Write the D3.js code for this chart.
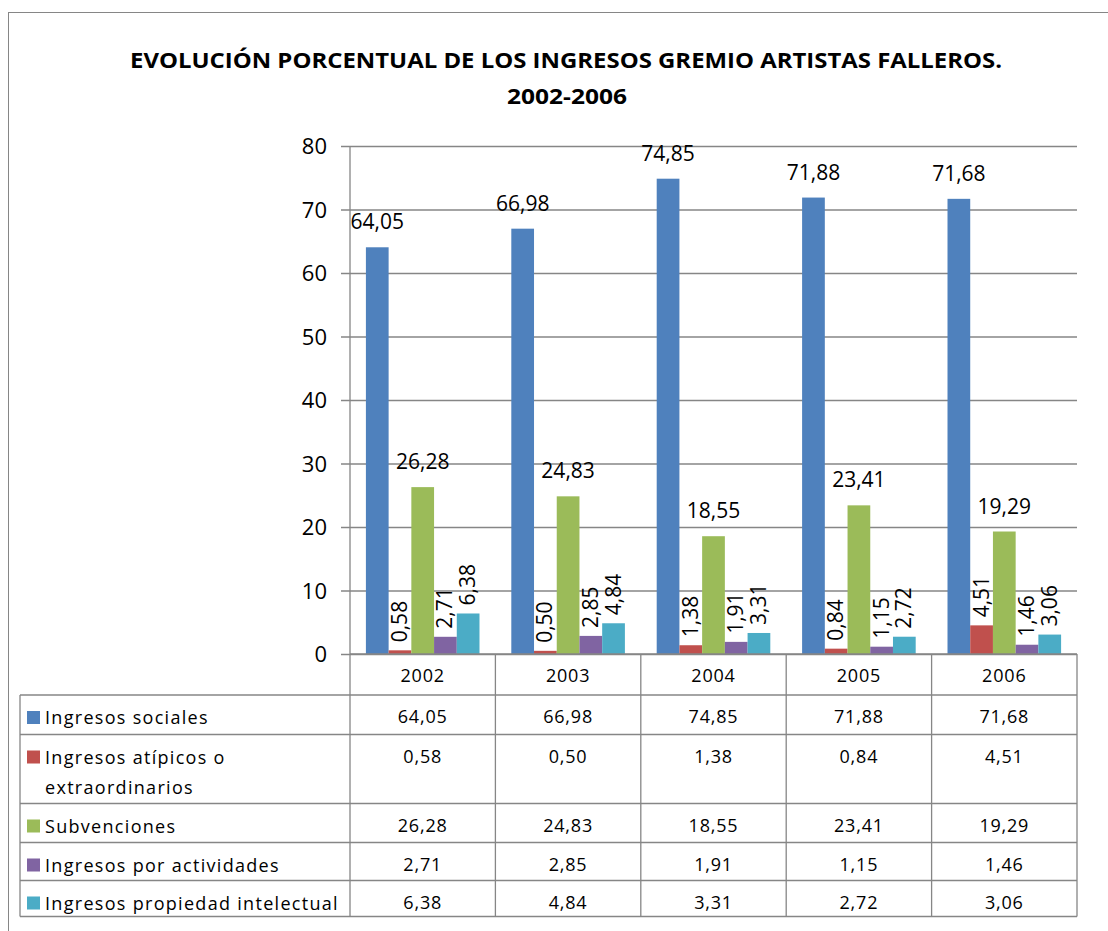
<!DOCTYPE html>
<html>
<head>
<meta charset="utf-8">
<script src="https://cdn.jsdelivr.net/npm/d3@7"></script>
<style>
  body { margin: 0; background: #fff; }
  svg { display: block; }
  text { font-family: "Open Sans", "Noto Sans", sans-serif; fill: #000; }
</style>
</head>
<body>
<svg></svg>
<script>
// datos del gráfico
const years = ["2002", "2003", "2004", "2005", "2006"];
const seriesNames = ["Ingresos sociales", "Ingresos atípicos o extraordinarios", "Subvenciones", "Ingresos por actividades", "Ingresos propiedad intelectual"];
const legendLines = [["Ingresos sociales"], ["Ingresos atípicos o", "extraordinarios"], ["Subvenciones"], ["Ingresos por actividades"], ["Ingresos propiedad intelectual"]];
const sociales = [64.05, 66.98, 74.85, 71.88, 71.68];
const atipicos = [0.58, 0.50, 1.38, 0.84, 4.51];
const subvenciones = [26.28, 24.83, 18.55, 23.41, 19.29];
const actividades = [2.71, 2.85, 1.91, 1.15, 1.46];
const propiedad = [6.38, 4.84, 3.31, 2.72, 3.06];
const yTicks = [0, 10, 20, 30, 40, 50, 60, 70, 80];
const colors = ["#4F81BD", "#C0504D", "#9BBB59", "#8064A2", "#4BACC6"];

const allValues = [sociales, atipicos, subvenciones, actividades, propiedad];

const width = 1108;
const height = 931;
const plotLeft = 350, plotRight = 1077, plotTop = 146, plotBottom = 654;
const gridColor = "#868686";
const fmt = v => v.toFixed(2).replace(".", ",");

let svg = d3.select("svg")
  .attr("width", width)
  .attr("height", height);

// marco exterior
svg.append("rect")
  .attr("x", 8.5).attr("y", 12.5)
  .attr("width", 1200).attr("height", 1000)
  .attr("fill", "none")
  .attr("stroke", gridColor);

// título
const title = svg.append("text")
  .attr("text-anchor", "middle")
  .style("font-weight", "bold")
  .style("font-size", "21px");
title.append("tspan").attr("x", 566).attr("y", 68)
  .attr("textLength", 872).attr("lengthAdjust", "spacingAndGlyphs")
  .text("EVOLUCIÓN PORCENTUAL DE LOS INGRESOS GREMIO ARTISTAS FALLEROS.");
title.append("tspan").attr("x", 567).attr("y", 104)
  .attr("textLength", 120).attr("lengthAdjust", "spacingAndGlyphs")
  .text("2002-2006");

// escalas
let scX = d3.scaleBand()
  .domain(years)
  .range([plotLeft, plotRight])
  .padding(0);

let scSeries = d3.scaleBand()
  .domain(d3.range(seriesNames.length))
  .range([0, scX.bandwidth()])
  .paddingInner(0)
  .paddingOuter(0.7);

let scY = d3.scaleLinear()
  .domain([0, 80])
  .range([plotBottom, plotTop]);

// rejilla y eje Y
let axisY = d3.axisLeft(scY)
  .tickValues(yTicks)
  .tickSize(plotRight - plotLeft + 9)
  .tickPadding(14);

let gY = svg.append("g")
  .attr("transform", `translate(${plotRight}, 0)`)
  .call(axisY);
gY.select(".domain").remove();
gY.selectAll(".tick line").attr("stroke", gridColor).attr("stroke-width", 1.3);
gY.selectAll(".tick text")
  .style("font-size", "22px")
  .attr("dy", "0.36em")
  .attr("x", -(plotRight - plotLeft + 9) - 14);

svg.append("line")
  .attr("x1", plotLeft).attr("x2", plotLeft)
  .attr("y1", plotTop).attr("y2", plotBottom)
  .attr("stroke", gridColor).attr("stroke-width", 1.3);

// barras
allValues.forEach((vals, s) => {
  svg.selectAll(".bar" + s)
    .data(vals)
    .enter().append("rect")
    .attr("class", "bar" + s)
    .attr("x", (d, i) => scX(years[i]) + scSeries(s))
    .attr("width", scSeries.bandwidth())
    .attr("y", d => scY(d))
    .attr("height", d => scY(0) - scY(d))
    .attr("fill", colors[s]);
});

// etiquetas de datos
allValues.forEach((vals, s) => {
  svg.selectAll(".lab" + s)
    .data(vals)
    .enter().append("text")
    .attr("class", "lab" + s)
    .style("font-size", "21px")
    .attr("transform", (d, i) => {
      const cx = scX(years[i]) + scSeries(s) + scSeries.bandwidth() / 2;
      if (d > 10) return `translate(${cx}, ${scY(d) - 18})`;
      return `translate(${cx + 7}, ${scY(d) - 8}) rotate(-90)`;
    })
    .attr("text-anchor", d => d > 10 ? "middle" : "start")
    .text(d => fmt(d));
});

// tabla de datos
const rowHeights = [39.5, 69, 39, 38, 36];
const headerTop = plotBottom, headerBottom = 695;
const tableLeft = 20;
const rowTops = [headerBottom];
rowHeights.forEach(h => rowTops.push(rowTops[rowTops.length - 1] + h));
const tableBottom = rowTops[rowTops.length - 1];

const tbl = svg.append("g").attr("stroke", gridColor).attr("stroke-width", 1.3);
// líneas horizontales
tbl.append("line").attr("x1", plotLeft).attr("x2", plotRight).attr("y1", headerTop).attr("y2", headerTop);
rowTops.forEach(y => {
  tbl.append("line").attr("x1", tableLeft).attr("x2", plotRight).attr("y1", y).attr("y2", y);
});
// líneas verticales
years.forEach(y => {
  tbl.append("line").attr("x1", scX(y)).attr("x2", scX(y)).attr("y1", headerTop).attr("y2", tableBottom);
});
tbl.append("line").attr("x1", plotRight).attr("x2", plotRight).attr("y1", headerTop).attr("y2", tableBottom);
tbl.append("line").attr("x1", tableLeft).attr("x2", tableLeft).attr("y1", headerBottom).attr("y2", tableBottom);

// cabecera de años
svg.selectAll(".yearLab")
  .data(years)
  .enter().append("text")
  .attr("class", "yearLab")
  .attr("x", d => scX(d) + scX.bandwidth() / 2)
  .attr("y", headerTop + 28)
  .attr("text-anchor", "middle")
  .style("font-size", "18px")
  .style("letter-spacing", "0.8px")
  .text(d => d);

// filas
seriesNames.forEach((name, s) => {
  const top = rowTops[s];
  svg.append("rect")
    .attr("x", 27).attr("y", top + 16)
    .attr("width", 13).attr("height", 13)
    .attr("fill", colors[s]);
  legendLines[s].forEach((line, k) => {
    svg.append("text")
      .attr("x", 45)
      .attr("y", top + 29 + k * 30)
      .style("font-size", "18px")
      .style("letter-spacing", "1.3px")
      .text(line);
  });
  svg.selectAll(".cell" + s)
    .data(allValues[s])
    .enter().append("text")
    .attr("x", (d, i) => scX(years[i]) + scX.bandwidth() / 2)
    .attr("y", top + 28)
    .attr("text-anchor", "middle")
    .style("font-size", "18px")
    .style("letter-spacing", "0.8px")
    .text(d => fmt(d));
});
</script>
</body>
</html>
